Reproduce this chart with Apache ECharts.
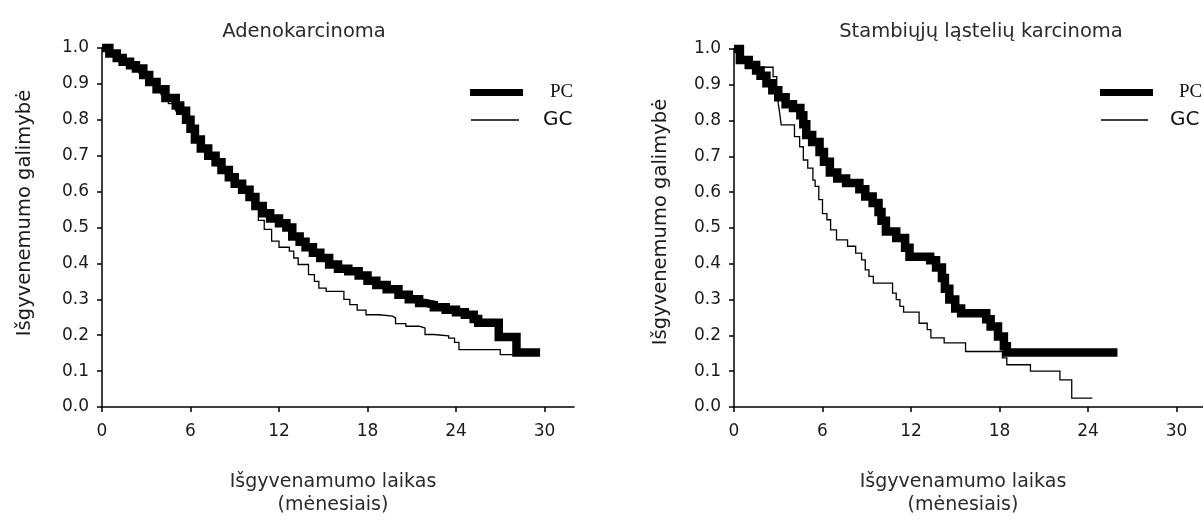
<!DOCTYPE html>
<html>
<head>
<meta charset="utf-8">
<script src="https://cdn.jsdelivr.net/npm/echarts@6/dist/echarts.min.js"></script>
<style>
  html, body { margin: 0; padding: 0; background: #fff; }
  #chart { width: 1203px; height: 520px; }
</style>
</head>
<body>
<div id="chart"></div>
<script>
const monthTicks = [0, 6, 12, 18, 24, 30]

// Adenokarcinoma
const adenoPcTime = [0, 0.5, 1.0, 1.4, 1.9, 2.3, 2.8, 3.2, 3.7, 4.3, 5.0, 5.3, 5.7, 6.0, 6.3, 6.7, 7.2, 7.7, 8.1, 8.6, 9.0, 9.5, 10.0, 10.4, 10.9, 11.4, 12.0, 12.5, 12.9, 13.4, 13.8, 14.3, 14.8, 15.4, 16.0, 16.7, 17.4, 18.0, 18.6, 19.3, 20.1, 20.8, 21.5, 21.9, 22.5, 23.3, 24.0, 24.6, 25.2, 25.5, 26.9, 28.1, 29.7]
const adenoPcSurv = [1.0, 0.985, 0.972, 0.962, 0.952, 0.943, 0.925, 0.905, 0.885, 0.861, 0.840, 0.825, 0.800, 0.775, 0.745, 0.720, 0.700, 0.682, 0.660, 0.640, 0.622, 0.605, 0.585, 0.560, 0.540, 0.525, 0.512, 0.500, 0.475, 0.460, 0.445, 0.430, 0.415, 0.397, 0.385, 0.378, 0.366, 0.352, 0.340, 0.328, 0.313, 0.300, 0.290, 0.285, 0.278, 0.271, 0.264, 0.257, 0.245, 0.235, 0.195, 0.152, 0.152]
const adenoGcTime = [0, 0.5, 1.0, 1.5, 2.0, 2.5, 3.0, 3.5, 4.0, 4.5, 5.0, 5.5, 6.0, 6.4, 6.8, 7.3, 7.8, 8.3, 8.8, 9.3, 9.8, 10.2, 10.6, 11.0, 11.5, 12.0, 12.7, 13.0, 13.3, 14.0, 14.4, 14.7, 15.2, 16.4, 16.8, 17.3, 17.9, 18.8, 19.7, 19.9, 20.6, 21.5, 21.9, 22.5, 23.5, 23.9, 24.2, 27.0, 29.7]
const adenoGcSurv = [1.0, 0.983, 0.968, 0.955, 0.943, 0.930, 0.910, 0.890, 0.870, 0.845, 0.825, 0.800, 0.770, 0.740, 0.715, 0.695, 0.672, 0.650, 0.628, 0.610, 0.590, 0.555, 0.520, 0.495, 0.462, 0.445, 0.434, 0.415, 0.397, 0.369, 0.350, 0.331, 0.322, 0.300, 0.285, 0.270, 0.257, 0.253, 0.248, 0.232, 0.225, 0.220, 0.202, 0.198, 0.192, 0.180, 0.160, 0.146, 0.146]

// Stambiųjų ląstelių karcinoma
const largePcTime = [0, 0.4, 1.0, 1.5, 1.8, 2.2, 2.6, 3.0, 3.5, 4.0, 4.5, 4.7, 4.9, 5.3, 5.8, 6.1, 6.5, 7.0, 7.6, 8.5, 8.9, 9.4, 9.8, 10.0, 10.3, 11.0, 11.6, 11.9, 13.3, 13.7, 14.1, 14.3, 14.6, 15.0, 15.4, 17.1, 17.4, 17.9, 18.3, 18.5, 26.0]
const largePcSurv = [1.0, 0.969, 0.955, 0.940, 0.925, 0.904, 0.885, 0.865, 0.846, 0.835, 0.815, 0.790, 0.760, 0.740, 0.712, 0.685, 0.655, 0.638, 0.626, 0.608, 0.588, 0.570, 0.545, 0.520, 0.490, 0.472, 0.445, 0.420, 0.410, 0.390, 0.360, 0.330, 0.300, 0.275, 0.262, 0.245, 0.225, 0.197, 0.170, 0.152, 0.152]
const largeGcTime = [0, 0.3, 1.4, 2.65, 2.9, 3.0, 3.1, 3.2, 4.1, 4.45, 4.7, 5.0, 5.35, 5.5, 5.75, 6.0, 6.3, 6.55, 6.95, 7.7, 8.25, 8.65, 8.9, 9.15, 9.45, 10.75, 11.0, 11.25, 11.5, 12.55, 13.1, 13.35, 14.25, 15.7, 18.2, 18.5, 20.1, 22.1, 22.9, 24.3]
const largeGcSurv = [1.0, 0.965, 0.949, 0.923, 0.895, 0.848, 0.820, 0.788, 0.755, 0.727, 0.690, 0.667, 0.634, 0.616, 0.579, 0.540, 0.523, 0.495, 0.467, 0.449, 0.430, 0.411, 0.383, 0.365, 0.346, 0.318, 0.300, 0.281, 0.265, 0.234, 0.216, 0.193, 0.179, 0.155, 0.137, 0.118, 0.100, 0.076, 0.025, 0.025]

const ink = '#1a1a1a'
const sans = 'DejaVu Sans'

function pairs(times, values) {
  return times.map((t, i) => [t, values[i]])
}

function makeXAxis(gridIndex, max) {
  return {
    type: 'value',
    gridIndex,
    min: 0,
    max,
    axisLine: { lineStyle: { color: '#000', width: 1.5 } },
    axisTick: { customValues: monthTicks, length: 5, lineStyle: { color: '#000', width: 1.5 } },
    axisLabel: { customValues: monthTicks, color: ink, fontFamily: sans, fontSize: 17, margin: 16 },
    splitLine: { show: false }
  }
}

function makeYAxis(gridIndex) {
  return {
    type: 'value',
    gridIndex,
    min: 0,
    max: 1,
    interval: 0.1,
    axisLine: { show: true, lineStyle: { color: '#000', width: 1.5 } },
    axisTick: { show: true, length: 5, lineStyle: { color: '#000', width: 1.5 } },
    axisLabel: { color: ink, fontFamily: sans, fontSize: 17, margin: 13, formatter: (v) => v.toFixed(1) },
    splitLine: { show: false }
  }
}

function pcSeries(idx, data) {
  return {
    name: 'PC', type: 'line', step: 'end', xAxisIndex: idx, yAxisIndex: idx,
    data, symbol: 'none', clip: false, color: '#000',
    lineStyle: { color: '#000', width: 8.5, join: 'miter' }
  }
}

function gcSeries(idx, data) {
  return {
    name: 'GC', type: 'line', step: 'end', xAxisIndex: idx, yAxisIndex: idx,
    data, symbol: 'none', clip: false, color: '#000',
    lineStyle: { color: '#000', width: 1.3, join: 'miter' }
  }
}

function legendItem(name, left, top, opts) {
  return {
    data: [name], left, top, padding: 0, orient: 'horizontal',
    icon: 'rect', itemWidth: opts.w, itemHeight: opts.h, selectedMode: false,
    textStyle: { color: '#111', fontFamily: opts.font, fontSize: opts.size, padding: [0, 0, 0, opts.gap] }
  }
}

function yName(x, y) {
  return {
    type: 'text', x, y, rotation: Math.PI / 2,
    style: { text: 'Išgyvenemumo galimybė', fill: ink, font: '19.5px "DejaVu Sans"', align: 'center', verticalAlign: 'middle' }
  }
}

const chart = echarts.init(document.getElementById('chart'))
chart.setOption({
  animation: false,
  backgroundColor: '#fff',
  title: [
    { text: 'Adenokarcinoma', left: 299, top: 17, textAlign: 'center', textStyle: { color: '#2a2a2a', fontFamily: sans, fontSize: 19.5, fontWeight: 'normal' } },
    { text: 'Stambiųjų ląstelių karcinoma', left: 976, top: 17, textAlign: 'center', textStyle: { color: '#2a2a2a', fontFamily: sans, fontSize: 19.5, fontWeight: 'normal' } },
    { text: 'Išgyvenamumo laikas\n(mėnesiais)', left: 328, top: 466, textAlign: 'center', textStyle: { color: '#2a2a2a', fontFamily: sans, fontSize: 19, lineHeight: 23, fontWeight: 'normal' } },
    { text: 'Išgyvenamumo laikas\n(mėnesiais)', left: 958, top: 466, textAlign: 'center', textStyle: { color: '#2a2a2a', fontFamily: sans, fontSize: 19, lineHeight: 23, fontWeight: 'normal' } }
  ],
  legend: [
    legendItem('PC', 470, 83, { w: 53, h: 7, font: 'Liberation Serif', size: 19, gap: 22 }),
    legendItem('GC', 471, 110, { w: 48, h: 1.5, font: sans, size: 20, gap: 19 }),
    legendItem('PC', 1100, 83, { w: 53, h: 7, font: 'Liberation Serif', size: 19, gap: 21 }),
    legendItem('GC', 1101, 110, { w: 47, h: 1.5, font: sans, size: 20, gap: 17 })
  ],
  graphic: [yName(25, 213), yName(661, 222)],
  grid: [
    { left: 102, top: 48, width: 472, height: 359 },
    { left: 734, top: 49, width: 469, height: 358 }
  ],
  xAxis: [makeXAxis(0, 32), makeXAxis(1, 31.8)],
  yAxis: [makeYAxis(0), makeYAxis(1)],
  series: [
    pcSeries(0, pairs(adenoPcTime, adenoPcSurv)),
    gcSeries(0, pairs(adenoGcTime, adenoGcSurv)),
    pcSeries(1, pairs(largePcTime, largePcSurv)),
    gcSeries(1, pairs(largeGcTime, largeGcSurv))
  ]
})
</script>
</body>
</html>
